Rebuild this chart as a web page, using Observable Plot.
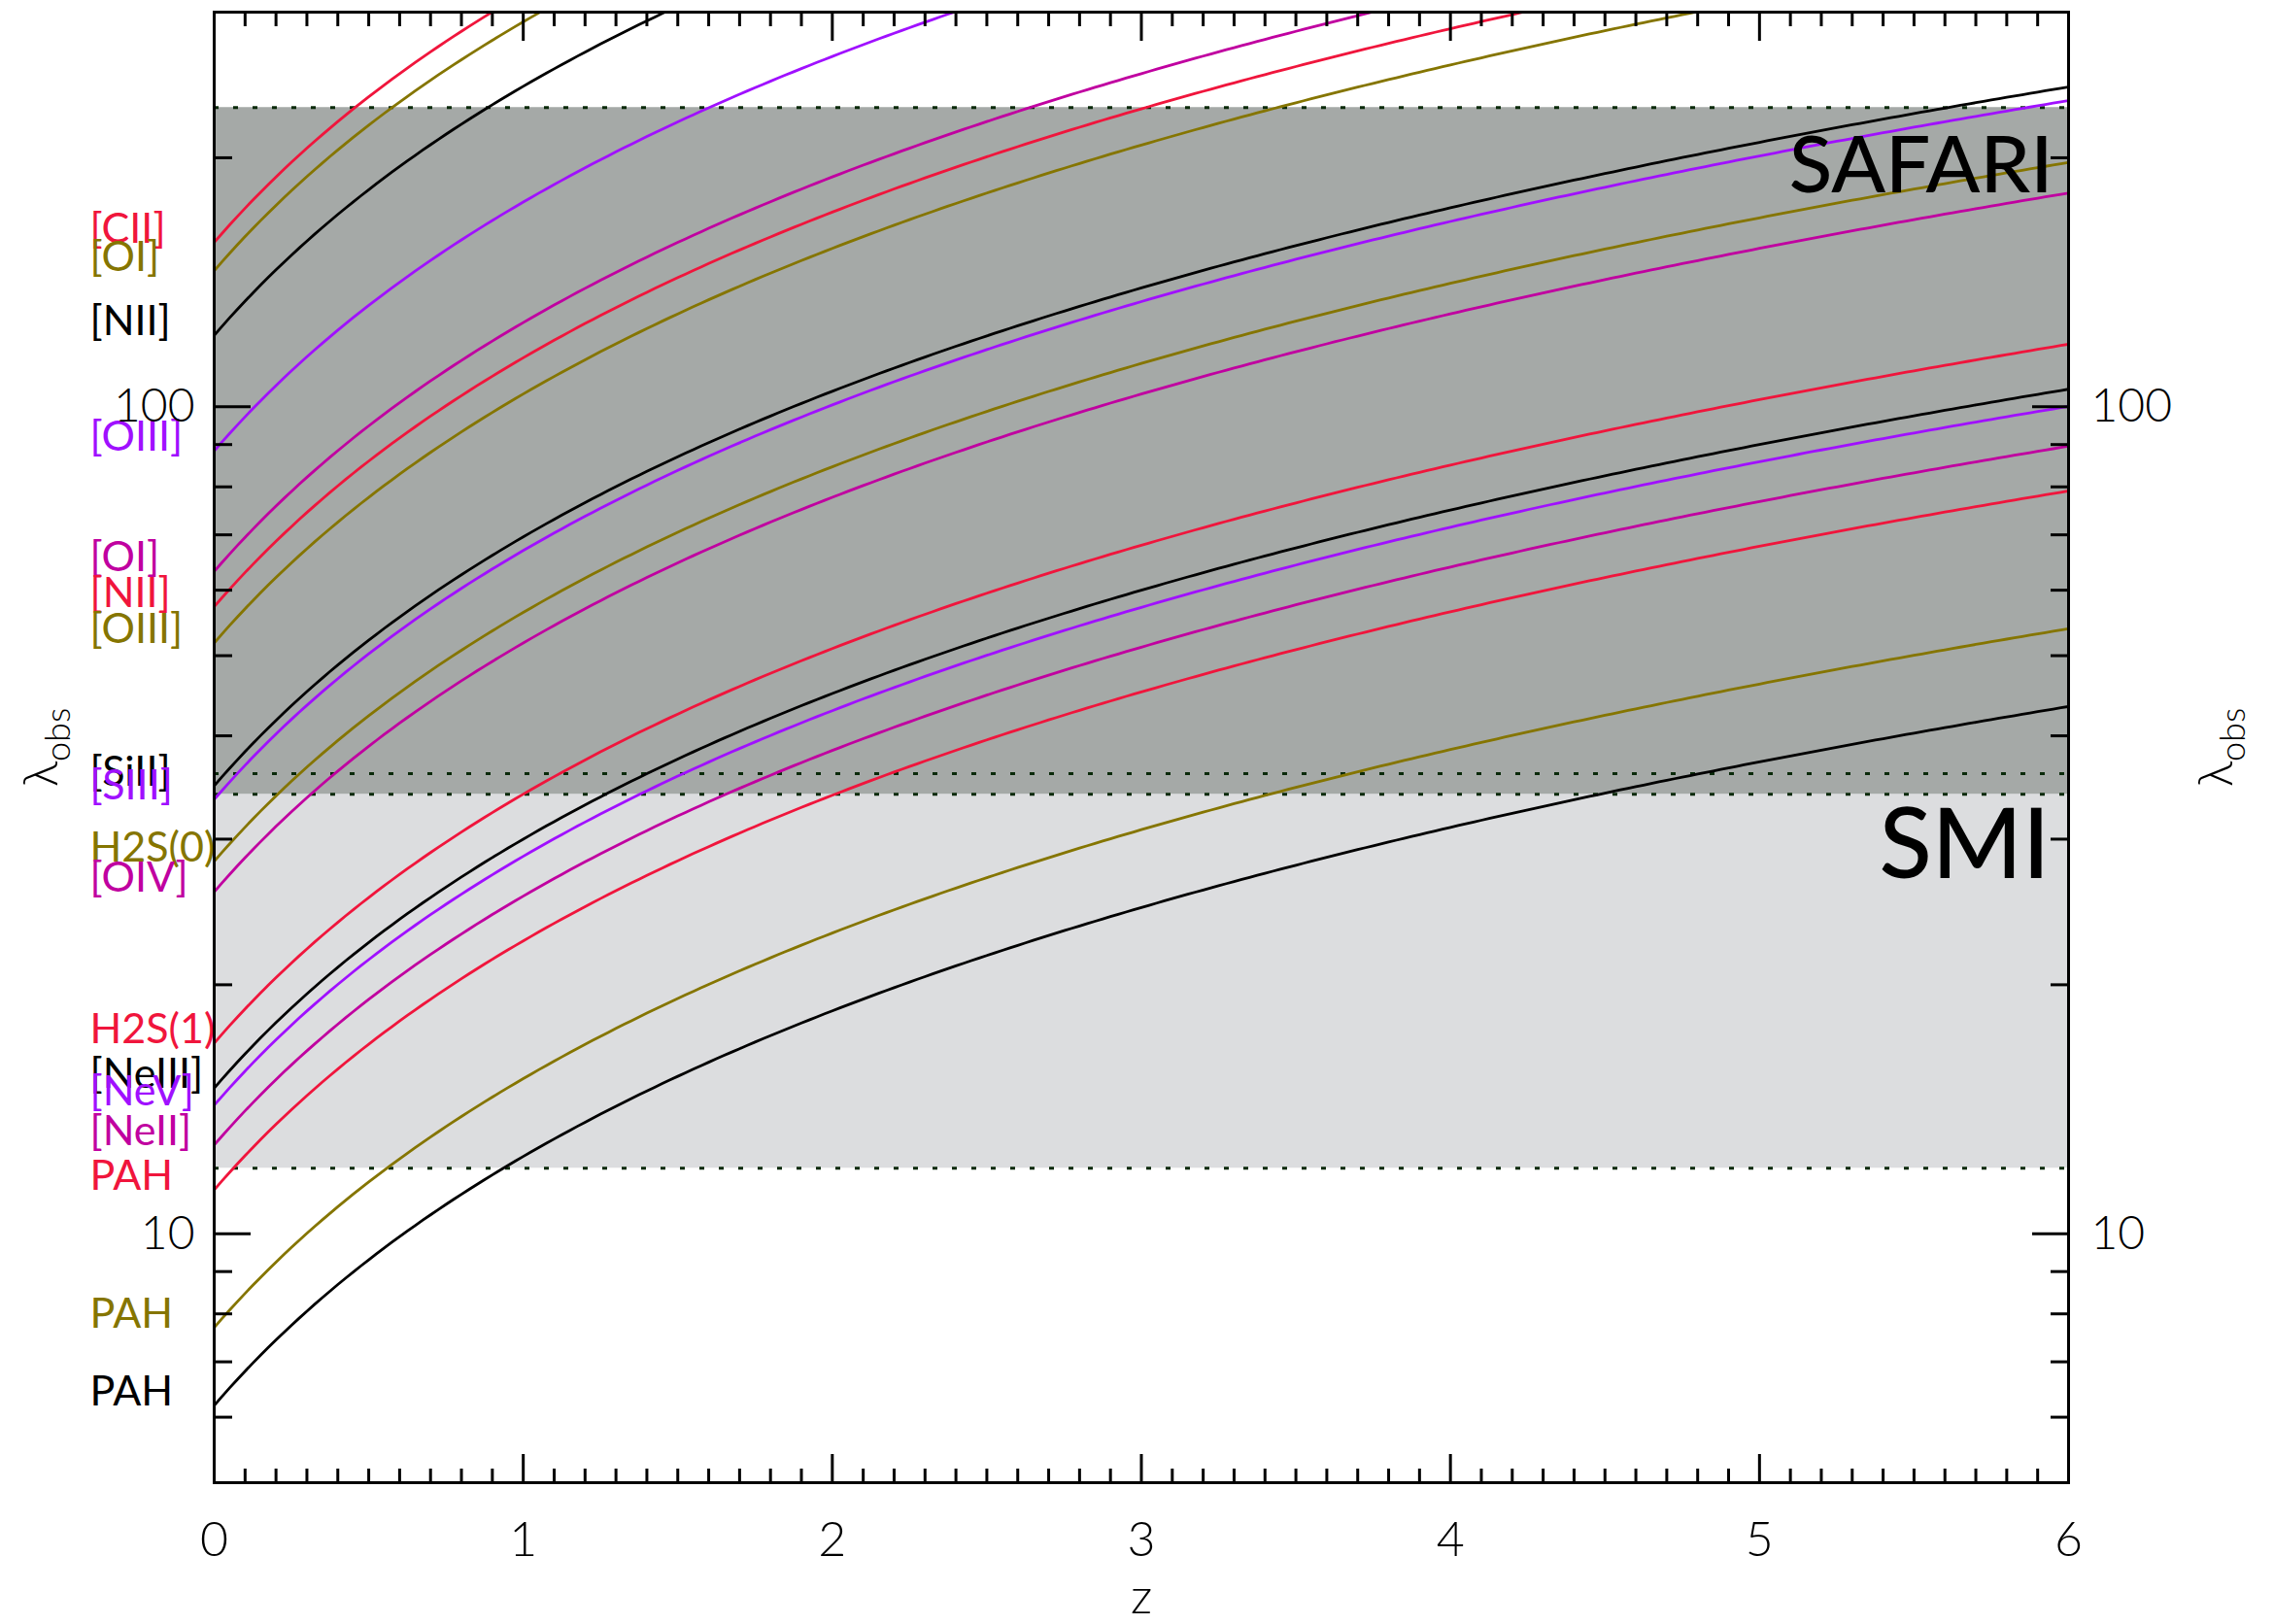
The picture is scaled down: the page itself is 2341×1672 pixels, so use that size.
<!DOCTYPE html>
<html>
<head>
<meta charset="utf-8">
<script src="https://cdn.jsdelivr.net/npm/d3@7"></script>
<script src="https://cdn.jsdelivr.net/npm/@observablehq/plot@0.6"></script>
<style>
  html, body { margin: 0; padding: 0; background: #fff; }
  #chart svg { display: block; }
</style>
</head>
<body>
<div id="chart"></div>
<script>
// ---- data ----
const lineNames = ["[CII]", "[OI]", "[NII]", "[OIII]", "[OI]", "[NII]", "[OIII]", "[SiII]", "[SIII]",
  "H2S(0)", "[OIV]", "H2S(1)", "[NeIII]", "[NeV]", "[NeII]", "PAH", "PAH", "PAH"];
const restWavelengths = [158, 146, 122, 88.4, 63.2, 57.3, 51.8, 34.8, 33.5,
  28.2, 25.9, 17.0, 15.0, 14.3, 12.8, 11.3, 7.7, 6.2];
const lineColors = ["#f0153c", "#857500", "#000000", "#a010ff", "#c000a0", "#f0153c", "#857500", "#000000", "#a010ff",
  "#857500", "#c000a0", "#f0153c", "#000000", "#a010ff", "#c000a0", "#f0153c", "#857500", "#000000"];

const bandNames = ["SMI", "SAFARI"];
const bandLow = [12, 34];
const bandHigh = [36, 230];
const bandFills = ["#dcdddf", "#a5a9a7"];

const zDomain = [0, 6];
const lambdaDomain = [5, 300];
const zTickValues = [0, 1, 2, 3, 4, 5, 6];
const zMinorTicks = [0.1,0.2,0.3,0.4,0.5,0.6,0.7,0.8,0.9, 1.1,1.2,1.3,1.4,1.5,1.6,1.7,1.8,1.9,
  2.1,2.2,2.3,2.4,2.5,2.6,2.7,2.8,2.9, 3.1,3.2,3.3,3.4,3.5,3.6,3.7,3.8,3.9,
  4.1,4.2,4.3,4.4,4.5,4.6,4.7,4.8,4.9, 5.1,5.2,5.3,5.4,5.5,5.6,5.7,5.8,5.9];
const lambdaTickValues = [10, 100];
const lambdaMinorTicks = [6, 7, 8, 9, 20, 30, 40, 50, 60, 70, 80, 90, 200];

// ---- derived tables ----
const N = 240;
const zGrid = d3.range(N + 1).map(i => zDomain[0] + (zDomain[1] - zDomain[0]) * i / N);
const curves = restWavelengths.flatMap((lam, i) =>
  zGrid.map(z => ({id: i, z, lam: lam * (1 + z), color: lineColors[i]})));
const bands = bandNames.map((name, i) => ({name, lo: bandLow[i], hi: bandHigh[i], fill: bandFills[i]}));
const labels = lineNames.map((name, i) => ({name, lam: restWavelengths[i], color: lineColors[i]}));
const bandEdges = [...bandLow, ...bandHigh];

const tickOnly = {strokeWidth: 3, tickFormat: () => "", label: null};
const fmt = d => String(d);

const svg = Plot.plot({
  width: 2341,
  height: 1672,
  marginLeft: 220,
  marginRight: 212,
  marginTop: 12,
  marginBottom: 146,
  x: {domain: zDomain},
  y: {type: "log", domain: lambdaDomain},
  color: {type: "identity"},
  style: {fontFamily: "Lato, 'DejaVu Sans', sans-serif", background: "#fff", color: "#000"},
  marks: [
    Plot.rect(bands, {x1: () => zDomain[0], x2: () => zDomain[1], y1: "lo", y2: "hi", fill: "fill"}),
    Plot.ruleY(bandEdges, {stroke: "#0a2a0a", strokeWidth: 3, strokeDasharray: "5,15"}),
    Plot.line(curves, {x: "z", y: "lam", z: "id", stroke: "color", strokeWidth: 2.8, clip: true}),
    Plot.text(labels, {x: () => zDomain[0], y: "lam", text: "name", fill: "color",
      textAnchor: "start", lineAnchor: "bottom", dx: -128, fontSize: 43}),
    Plot.text(["SAFARI"], {frameAnchor: "top-right", dx: -16, dy: 185, textAnchor: "end",
      lineAnchor: "bottom", fontSize: 82, fontWeight: 500}),
    Plot.text(["SMI"], {frameAnchor: "top-right", dx: -19, dy: 891, textAnchor: "end",
      lineAnchor: "bottom", fontSize: 100, fontWeight: 500}),
    Plot.frame({stroke: "#000", strokeWidth: 3}),
    // x axes
    Plot.axisX(zTickValues, {anchor: "bottom", tickSize: 0, tickPadding: 40, fontSize: 50,
      fontWeight: 300, tickFormat: fmt, label: null}),
    Plot.axisX(zTickValues, {anchor: "bottom", tickSize: -29, ...tickOnly}),
    Plot.axisX(zMinorTicks, {anchor: "bottom", tickSize: -14, ...tickOnly}),
    Plot.axisX(zTickValues, {anchor: "top", tickSize: -29, ...tickOnly}),
    Plot.axisX(zMinorTicks, {anchor: "top", tickSize: -14, ...tickOnly}),
    // y axes
    Plot.axisY(lambdaTickValues, {anchor: "left", tickSize: 0, tickPadding: 20, fontSize: 48,
      fontWeight: 300, tickFormat: fmt, label: null}),
    Plot.axisY(lambdaTickValues, {anchor: "left", tickSize: -38, ...tickOnly}),
    Plot.axisY(lambdaMinorTicks, {anchor: "left", tickSize: -19, ...tickOnly}),
    Plot.axisY(lambdaTickValues, {anchor: "right", tickSize: 0, tickPadding: 23, fontSize: 48,
      fontWeight: 300, tickFormat: fmt, label: null}),
    Plot.axisY(lambdaTickValues, {anchor: "right", tickSize: -38, ...tickOnly}),
    Plot.axisY(lambdaMinorTicks, {anchor: "right", tickSize: -19, ...tickOnly}),
    // axis titles
    Plot.text(["z"], {frameAnchor: "bottom", dy: 134, lineAnchor: "bottom", fontSize: 50, fontWeight: 300}),
    Plot.text(["λobs"], {frameAnchor: "left", dx: -162, rotate: -90, textAnchor: "middle",
      lineAnchor: "bottom", fontSize: 50, fontWeight: 300}),
    Plot.text(["λobs"], {frameAnchor: "right", dx: 168, rotate: -90, textAnchor: "middle",
      lineAnchor: "bottom", fontSize: 50, fontWeight: 300})
  ]
});

// subscript for the axis titles
d3.select(svg).selectAll("text").filter(function () { return this.textContent === "λobs"; })
  .each(function () {
    const t = d3.select(this);
    t.text(null);
    t.append("tspan").text("λ");
    t.append("tspan").attr("font-size", 36).attr("dy", 13).text("obs");
  });

document.getElementById("chart").appendChild(svg);
</script>
</body>
</html>
